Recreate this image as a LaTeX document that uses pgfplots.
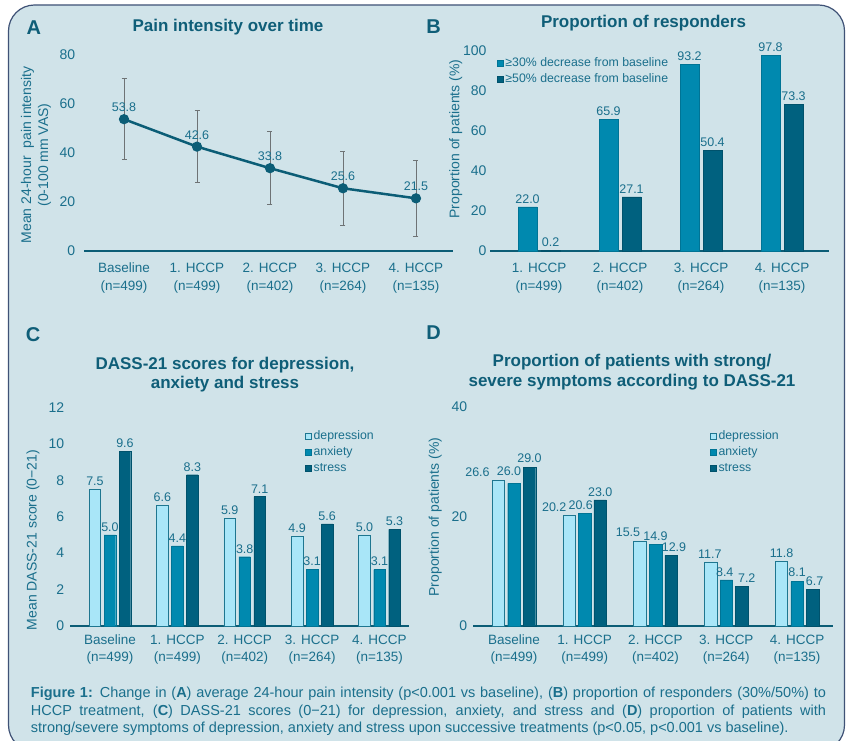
\documentclass[border=0pt]{standalone}
\usepackage{pgfplots}
\usepackage{pgfplotstable}
\pgfplotsset{compat=1.18}
\usepackage{fontspec}
\setmainfont{Liberation Sans}
\definecolor{bg}{HTML}{D0E3E9}
\definecolor{frame}{HTML}{3F5276}
\definecolor{txt}{HTML}{1A6F8C}
\definecolor{ttl}{HTML}{0F5E78}
\definecolor{mainline}{HTML}{0B5D76}
\definecolor{dep}{HTML}{A9E6F8}
\definecolor{anx}{HTML}{0089AF}
\definecolor{strc}{HTML}{00617F}
\definecolor{edge}{HTML}{1E7690}
\definecolor{ebar}{HTML}{6E7375}

\pgfplotsset{
  sqlegend/.style={legend image code/.code={\draw[##1,line width=0.5pt] (0pt,-3pt) rectangle (6pt,3pt);}},
  base/.style={
    scale only axis,
    anchor=south west,
    axis x line*=bottom, axis y line*=left,
    y axis line style={draw=none},
    x axis line style={line width=2pt, color=mainline},
    major tick length=0pt,
    tick style={draw=none},
    /pgf/number format/assume math mode=true,
    ticklabel style={text=txt},
    yticklabel style={font=\fontsize{14}{16}\selectfont},
    xticklabel style={font=\fontsize{13.5}{17.4}\selectfont, align=center, inner sep=0pt},
    label style={text=txt, font=\fontsize{14}{17}\selectfont, align=center},
    clip=false,
    nodes near coords style={font=\fontsize{12.5}{14}\selectfont, text=txt,
      /pgf/number format/fixed, /pgf/number format/fixed zerofill, /pgf/number format/precision=1},
    legend style={draw=none, fill=none, anchor=north west, inner sep=0pt,
      font=\fontsize{12.3}{14}\selectfont, text=txt,
      nodes={inner sep=0.5pt, text height=9pt, text depth=2.5pt, anchor=west},
      row sep=3.5pt, /tikz/every odd column/.append style={column sep=1.5pt}},
    legend cell align=left,
    every axis plot post/.append style={sqlegend},
  }
}

\pgfplotstableread{
x y e
0 53.8 16.6
1 42.6 14.8
2 33.8 14.8
3 25.6 15.1
4 21.5 15.6
}\Atab

\pgfplotstableread{
x y dx dy
0 26.6 -21 0
1 20.2 -15 0
2 15.5 -12 1
3 11.7 -1 0
4 11.8 0 0
}\Ddep
\pgfplotstableread{
x y dx dy
0 26.0 -5 4
1 20.6 -4 0
2 14.9 0 0
3 8.4 -1.5 0
4 8.1 0 1
}\Danx
\pgfplotstableread{
x y dx dy
0 29.0 0 1
1 23.0 0 0
2 12.9 3 0
3 7.2 5 0
4 6.7 2 0
}\Dstr

\begin{document}
\begin{tikzpicture}[x=1pt,y=1pt]
\useasboundingbox (0,0) rectangle (848,740);
\fill[white] (0,0) rectangle (848,740);
\draw[frame, line width=1.2pt, fill=bg, rounded corners=26pt] (8.5,-11) rectangle (844.5,735);

% letters and titles
\node[font=\bfseries\fontsize{20}{20}\selectfont, text=ttl, anchor=base] at (33.8,740-34.3) {A};
\node[font=\bfseries\fontsize{20}{20}\selectfont, text=ttl, anchor=base] at (433.5,740-33.3) {B};
\node[font=\bfseries\fontsize{20}{20}\selectfont, text=ttl, anchor=base] at (33,740-341) {C};
\node[font=\bfseries\fontsize{20}{20}\selectfont, text=ttl, anchor=base] at (433.5,740-340) {D};
\node[font=\bfseries\fontsize{17}{20}\selectfont, text=ttl, anchor=base] at (228,740-31.2) {Pain intensity over time};
\node[font=\bfseries\fontsize{17}{20}\selectfont, text=ttl, anchor=base] at (643.5,740-28) {Proportion of responders};
\node[font=\bfseries\fontsize{17}{20}\selectfont, text=ttl, anchor=base] at (225,740-369) {DASS-21 scores for depression,};
\node[font=\bfseries\fontsize{17}{20}\selectfont, text=ttl, anchor=base] at (225,740-388) {anxiety and stress};
\node[font=\bfseries\fontsize{17}{20}\selectfont, text=ttl, anchor=base] at (632,740-366.2) {Proportion of patients with strong/};
\node[font=\bfseries\fontsize{17}{20}\selectfont, text=ttl, anchor=base] at (632,740-386.2) {severe symptoms according to DASS-21};

% Panel A
\begin{axis}[base, at={(84pt,489pt)}, width=369pt, height=196pt,
  xmin=-0.548, xmax=4.507, ymin=0, ymax=80, ytick={0,20,...,80},
  xtick={0,...,4},
  xticklabels={{Baseline\\(n=499)},{1. HCCP\\(n=499)},{2. HCCP\\(n=402)},{3. HCCP\\(n=264)},{4. HCCP\\(n=135)}},
  yticklabel style={xshift=-5.3pt},
  xticklabel style={yshift=-12pt},
  ylabel={Mean 24-hour\ \ pain intensity\\(0-100 mm VAS)},
  ylabel style={at={(axis description cs:-0.13,0.49)}, anchor=center},
  nodes near coords, nodes near coords align={vertical},
  every node near coord/.append style={yshift=2.7pt},
]
\addplot[mainline, line width=2.5pt, mark=*, mark size=3.8pt,
  error bars/.cd, y dir=both, y explicit,
  error bar style={ebar, line width=0.9pt},
  error mark options={ebar, rotate=90, mark size=2.5pt, line width=0.9pt}]
  table[x=x, y=y, y error=e] {\Atab};
\end{axis}

% Panel B
\begin{axis}[base, at={(490pt,489pt)}, width=339pt, height=200pt,
  ybar=4pt, bar width=19pt,
  xmin=-0.605, xmax=3.58, ymin=0, ymax=100, ytick={0,20,...,100},
  xtick={0,...,3},
  xticklabels={{1. HCCP\\(n=499)},{2. HCCP\\(n=402)},{3. HCCP\\(n=264)},{4. HCCP\\(n=135)}},
  xticklabel style={yshift=-12pt},
  ylabel={Proportion of patients (\%)},
  ylabel style={at={(axis description cs:-0.101,0.56)}, anchor=center},
  nodes near coords,
  legend style={at={(axis description cs:0.02,0.97)}},
]
\addplot[fill=anx, draw=anx!85!black, line width=0.4pt] coordinates {(0,22.0) (1,65.9) (2,93.2) (3,97.8)};
\addplot[fill=strc, draw=strc!85!black, line width=0.4pt] coordinates {(0,0.2) (1,27.1) (2,50.4) (3,73.3)};
\legend{≥30\% decrease from baseline, ≥50\% decrease from baseline}
\end{axis}

% Panel C
\begin{axis}[base, at={(70pt,114pt)}, width=339pt, height=218.7pt,
  ybar=3.5pt, bar width=11.5pt,
  xmin=-0.593, xmax=4.438, ymin=0, ymax=12, ytick={0,2,...,12},
  xtick={0,...,4},
  xticklabels={{Baseline\\(n=499)},{1. HCCP\\(n=499)},{2. HCCP\\(n=402)},{3. HCCP\\(n=264)},{4. HCCP\\(n=135)}},
  yticklabel style={xshift=-2.3pt},
  xticklabel style={yshift=-8.4pt},
  ylabel={Mean DASS-21 score (0−21)},
  ylabel style={at={(axis description cs:-0.109,0.393)}, anchor=center},
  nodes near coords,
  legend style={at={(axis description cs:0.693,0.896)}},
]
\addplot[fill=dep, draw=edge, line width=0.6pt] coordinates {(0,7.5) (1,6.6) (2,5.9) (3,4.9) (4,5.0)};
\addplot[fill=anx, draw=anx!85!black, line width=0.4pt] coordinates {(0,5.0) (1,4.4) (2,3.8) (3,3.1) (4,3.1)};
\addplot[fill=strc, draw=strc!85!black, line width=0.4pt] coordinates {(0,9.6) (1,8.3) (2,7.1) (3,5.6) (4,5.3)};
\legend{depression, anxiety, stress}
\end{axis}

% Panel D
\begin{axis}[base, at={(473.3pt,114pt)}, width=360pt, height=219.3pt,
  ybar=3pt, bar width=12.5pt,
  xmin=-0.575, xmax=4.513, ymin=0, ymax=40, ytick={0,20,40},
  xtick={0,...,4},
  xticklabels={{Baseline\\(n=499)},{1. HCCP\\(n=499)},{2. HCCP\\(n=402)},{3. HCCP\\(n=264)},{4. HCCP\\(n=135)}},
  yticklabel style={xshift=-2.6pt},
  xticklabel style={yshift=-8.4pt},
  ylabel={Proportion of patients (\%)},
  ylabel style={at={(axis description cs:-0.106,0.497)}, anchor=center},
  nodes near coords,
  visualization depends on={\thisrow{dx} \as \dx},
  visualization depends on={\thisrow{dy} \as \dy},
  every node near coord/.append style={xshift=\dx pt, yshift=\dy pt},
  legend style={at={(axis description cs:0.657,0.894)}},
]
\addplot[fill=dep, draw=edge, line width=0.6pt] table[x=x,y=y] {\Ddep};
\addplot[fill=anx, draw=anx!85!black, line width=0.4pt] table[x=x,y=y] {\Danx};
\addplot[fill=strc, draw=strc!85!black, line width=0.4pt] table[x=x,y=y] {\Dstr};
\legend{depression, anxiety, stress}
\end{axis}

% caption
\node[anchor=north west, inner sep=0pt, text width=795pt, align=justify, text=txt,
  font=\fontsize{14.5}{17.5}\selectfont] at (30.7,740-687) {\hyphenpenalty=10000
\textbf{Figure 1:} Change in (\textbf{A}) average 24-hour pain intensity (p<0.001 vs baseline), (\textbf{B}) proportion of responders (30\%/50\%) to\linebreak HCCP treatment, (\textbf{C}) DASS-21 scores (0−21) for depression, anxiety, and stress and (\textbf{D}) proportion of patients with\linebreak strong/severe symptoms of depression, anxiety and stress upon successive treatments (p<0.05, p<0.001 vs baseline).};
\end{tikzpicture}
\end{document}
